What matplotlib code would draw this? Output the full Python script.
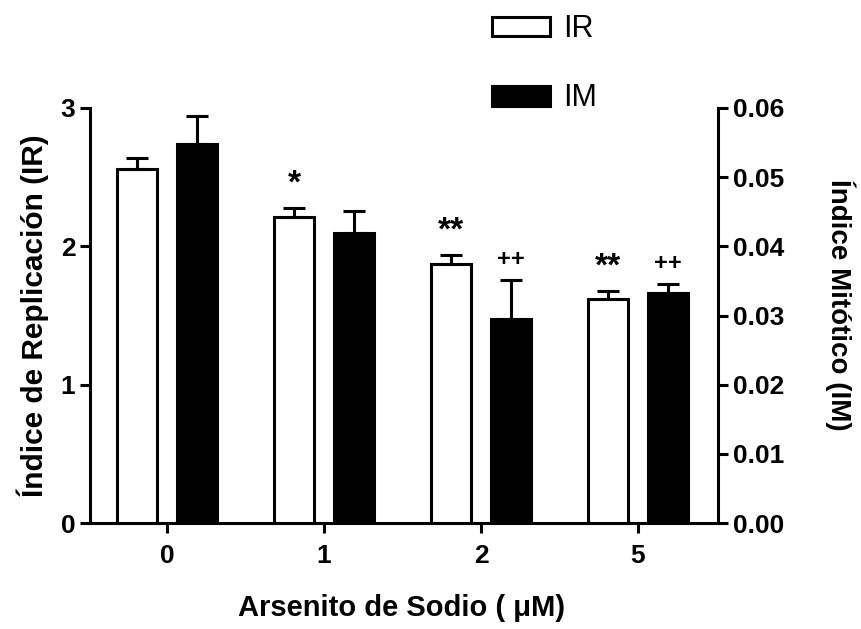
import matplotlib
matplotlib.use("Agg")
import matplotlib.pyplot as plt
from matplotlib.ticker import FormatStrFormatter, MultipleLocator
import numpy as np

plt.rcParams['font.family'] = ['Liberation Sans', 'DejaVu Sans']

# arsenite concentrations (uM)
doses = ['0', '1', '2', '5']
# replication index (left axis)
ir_mean = [2.56, 2.21, 1.87, 1.62]
ir_err = [0.08, 0.07, 0.07, 0.06]
# mitotic index (right axis)
im_mean = [0.0548, 0.0419, 0.0295, 0.0333]
im_err = [0.0040, 0.0032, 0.0056, 0.0013]
# significance marks
ir_marks = ['', '*', '**', '**']
im_marks = ['', '', '++', '++']

x = np.arange(len(doses))
w = 0.255
off = 0.19
lw = 2.2

fig = plt.figure(figsize=(8.61, 6.29), dpi=100)
ax = fig.add_axes([0.1045, 0.1685, 0.7295, 0.6598])
ax2 = ax.twinx()

zeros = [0] * len(doses)
b1 = ax.bar(x - off, ir_mean, w, color='white', edgecolor='black', linewidth=lw,
            yerr=[zeros, ir_err], capsize=8,
            error_kw=dict(elinewidth=lw, capthick=lw, ecolor='black'), label='IR', zorder=3)
b2 = ax2.bar(x + off, im_mean, w, color='black', edgecolor='black', linewidth=lw,
             yerr=[zeros, im_err], capsize=8,
             error_kw=dict(elinewidth=lw, capthick=lw, ecolor='black'), label='IM', zorder=3)

for xi, m, e, s in zip(x, ir_mean, ir_err, ir_marks):
    if s:
        ax.annotate(s, (xi - off, m + e), xytext=(0, 11), textcoords='offset points',
                    ha='center', va='baseline', fontsize=24, fontweight='bold')
for xi, m, e, s in zip(x, im_mean, im_err, im_marks):
    if s:
        ax2.annotate(s, (xi + off, m + e), xytext=(0, 10), textcoords='offset points',
                     ha='center', va='baseline', fontsize=17, fontweight='bold')

ax.set_xlim(-0.49, 3.51)
ax.set_ylim(0, 3)
ax2.set_ylim(0, 0.06)
ax.yaxis.set_major_locator(MultipleLocator(1))
ax2.yaxis.set_major_locator(MultipleLocator(0.01))
ax2.yaxis.set_major_formatter(FormatStrFormatter('%.2f'))
ax.set_xticks(x)
ax.set_xticklabels(doses)

for a in (ax, ax2):
    a.spines['top'].set_visible(False)
    for sp in a.spines.values():
        sp.set_linewidth(lw)
    a.tick_params(width=lw, length=7, labelsize=19)
    for lab in a.get_xticklabels() + a.get_yticklabels():
        lab.set_fontweight('bold')
ax.spines['right'].set_visible(False)
ax2.spines['left'].set_visible(False)
ax2.spines['bottom'].set_visible(False)
ax.tick_params(axis='x', pad=8)

fig.text(402 / 861, 1 - 608 / 629, 'Arsenito de Sodio ( μM)', fontsize=21,
         fontweight='bold', ha='center', va='center')
fig.text(33 / 861, 1 - 316 / 629, 'Índice de Replicación (IR)', fontsize=21.5,
         fontweight='bold', rotation=90, ha='center', va='center')
fig.text(840 / 861, 1 - 305 / 629, 'Índice Mitótico (IM)', fontsize=20,
         fontweight='bold', rotation=270, ha='center', va='center')

fig.legend(handles=[b1, b2], labels=['IR', 'IM'], loc='upper left',
           bbox_to_anchor=(0.540, 1.021), frameon=False, fontsize=22,
           handlelength=1.9, handleheight=0.62, handletextpad=0.4, labelspacing=1.28)

fig.savefig('out.png', dpi=100)
